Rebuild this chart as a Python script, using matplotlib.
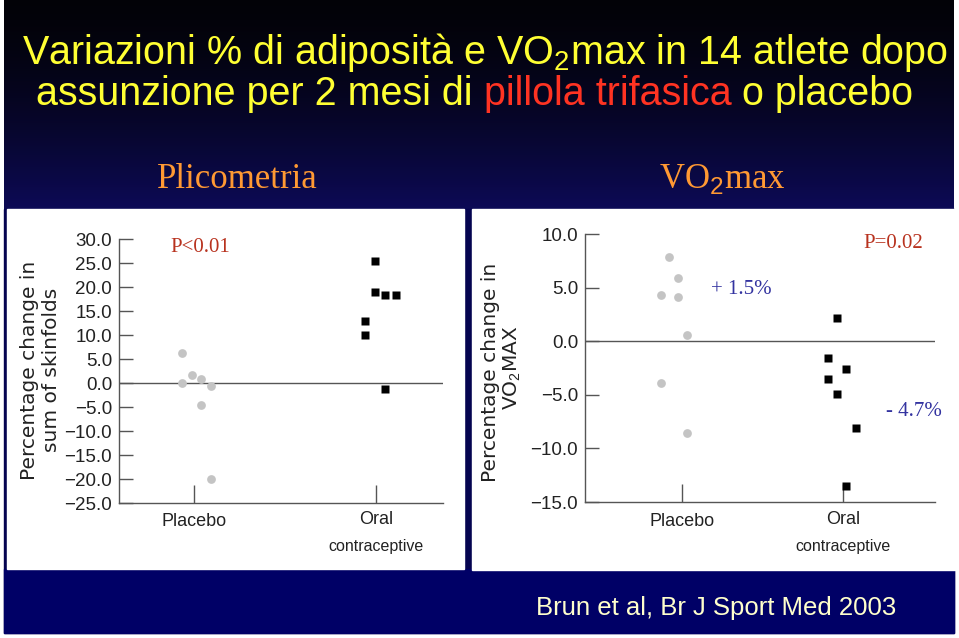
import numpy as np
import matplotlib
matplotlib.use("Agg")
import matplotlib.pyplot as plt
from matplotlib.patches import Rectangle

plt.rcParams["font.family"] = ["Liberation Sans", "DejaVu Sans"]
plt.rcParams["mathtext.fontset"] = "custom"
plt.rcParams["mathtext.rm"] = "Liberation Sans"

# ── data ──
categories = ["Placebo", "Oral\ncontraceptive"]

# skinfolds (% change)
skin_placebo_x = [0.936, 0.987, 0.936, 1.038, 1.092, 1.038, 1.092]
skin_placebo_y = [6.2, 1.6, 0.1, 0.8, -0.7, -4.5, -20.0]
skin_oc_x = [1.995, 1.995, 2.049, 2.108, 1.940, 1.940, 2.049]
skin_oc_y = [25.5, 18.9, 18.3, 18.3, 13.0, 10.1, -1.2]
skin_ticks = [30, 25, 20, 15, 10, 5, 0, -5, -10, -15, -20, -25]

# VO2max (% change)
vo2_placebo_x = [0.917, 0.973, 0.865, 0.973, 1.029, 0.865, 1.029]
vo2_placebo_y = [7.9, 5.9, 4.3, 4.1, 0.6, -3.9, -8.6]
vo2_oc_x = [1.965, 1.910, 2.021, 1.910, 1.965, 2.080, 2.021]
vo2_oc_y = [2.2, -1.6, -2.6, -3.5, -4.9, -8.1, -13.5]
vo2_ticks = [10, 5, 0, -5, -10, -15]

W, H = 959, 638
fig = plt.figure(figsize=(W / 100, H / 100), dpi=100, facecolor="white")

# background axes in pixel coords
bg = fig.add_axes([0, 0, 1, 1])
bg.set_xlim(0, W)
bg.set_ylim(H, 0)
bg.axis("off")

# header gradient black -> navy
grad = np.linspace(0, 1, 256)[:, None]
top = np.array([0.01, 0.01, 0.03])
bot = np.array([0.05, 0.04, 0.34])
img = top + (bot - top) * grad[..., None] ** 1.5
bg.imshow(img, extent=[4, 954, 210, 0], aspect="auto", zorder=0)
bg.add_patch(Rectangle((4, 209), 950, 424, color="#050450", zorder=0))
bg.add_patch(Rectangle((4, 569), 950, 64, color="#000066", zorder=1))
bg.add_patch(Rectangle((7, 209), 457, 360, color="white", zorder=1))
bg.add_patch(Rectangle((472, 209), 487, 361, color="white", zorder=1))

# title
title_fs = 28.45
yellow = "#ffff33"
bg.text(22, 64, r"Variazioni % di adiposità e VO$_2$max in 14 atlete dopo",
        fontsize=title_fs, color=yellow, va="baseline", ha="left", zorder=3)
t = bg.text(36, 105, "assunzione per 2 mesi di ", fontsize=title_fs,
            color=yellow, va="baseline", ha="left", zorder=3)
t = bg.annotate("pillola trifasica", xy=(1, 0), xycoords=t, va="bottom",
                fontsize=title_fs, color="#ff3322", zorder=3)
bg.annotate(" o placebo", xy=(1, 0), xycoords=t, va="bottom",
            fontsize=title_fs, color=yellow, zorder=3)

orange = "#ff9933"
serif = ["Liberation Serif", "DejaVu Serif"]
bg.text(237, 188, "Plicometria", fontsize=25, color=orange, ha="center",
        va="baseline", family=serif, zorder=3)
bg.text(722, 188, r"VO$_2$max", fontsize=25, color=orange, ha="center",
        va="baseline", family=serif, zorder=3)

bg.text(716, 615, "Brun et al, Br J Sport Med 2003", fontsize=18.5,
        color="#ffffcc", ha="center", va="baseline", zorder=3)

axis_col = "#555555"
txt_col = "#222222"
red_txt = "#b8321e"
blue_txt = "#3333a0"


def px_axes(x0, x1, y0, y1):
    return fig.add_axes([x0 / W, 1 - y1 / H, (x1 - x0) / W, (y1 - y0) / H])


def style(ax, ticks, xlim):
    ax.set_facecolor("none")
    ax.set_xlim(*xlim)
    ax.set_ylim(min(ticks), max(ticks))
    for s in ("top", "right"):
        ax.spines[s].set_visible(False)
    for s in ("left", "bottom"):
        ax.spines[s].set_color(axis_col)
        ax.spines[s].set_linewidth(1.0)
    ax.axhline(0, color=axis_col, lw=1.0, zorder=1)
    ax.set_yticks(ticks)
    ax.set_yticklabels([f"{v:.1f}".replace("-", "\u2212") for v in ticks],
                       fontsize=13.5, color=txt_col)
    ax.tick_params(axis="y", direction="in", length=10, width=1.0,
                   color=axis_col, pad=5)
    ax.set_xticks([1, 2])
    ax.set_xticklabels([])
    ax.tick_params(axis="x", direction="in", length=13, width=1.0,
                   color=axis_col)


# left panel: skinfolds
ax1 = px_axes(119, 443, 239, 503)
style(ax1, skin_ticks, (0.588, 2.368))
ax1.plot(skin_placebo_x, skin_placebo_y, "o", ms=6.3, color="#c4c4c4",
         mec="none", zorder=3)
ax1.plot(skin_oc_x, skin_oc_y, "s", ms=6.0, color="black", mec="none",
         zorder=3)

# right panel: VO2max
ax2 = px_axes(585, 935, 234, 502)
style(ax2, vo2_ticks, (0.393, 2.575))
ax2.plot(vo2_placebo_x, vo2_placebo_y, "o", ms=6.3, color="#c4c4c4",
         mec="none", zorder=3)
ax2.plot(vo2_oc_x, vo2_oc_y, "s", ms=6.0, color="black", mec="none",
         zorder=3)

# category labels
cat_fs = 13
l1, l2 = categories[1].split("\n")
for cx in (194, 682):
    bg.text(cx, 521, categories[0], fontsize=cat_fs, ha="center",
            va="center", color=txt_col, zorder=3)
for cx in (376, 843):
    bg.text(cx, 520, l1, fontsize=cat_fs, ha="center", va="center",
            color=txt_col, zorder=3)
    bg.text(cx, 547, l2, fontsize=11.5, ha="center", va="center",
            color=txt_col, zorder=3)

# y labels
ylab_fs = 14.5
bg.text(30, 370, "Percentage change in", rotation=90, fontsize=ylab_fs,
        family="DejaVu Sans", ha="center", va="center", color=txt_col, zorder=3)
bg.text(52, 370, "sum of skinfolds", rotation=90, fontsize=ylab_fs,
        family="DejaVu Sans", ha="center", va="center", color=txt_col, zorder=3)
bg.text(490, 372, "Percentage change in", rotation=90, fontsize=ylab_fs,
        family="DejaVu Sans", ha="center", va="center", color=txt_col, zorder=3)
bg.text(512, 368, r"VO$_2$MAX", rotation=90, fontsize=ylab_fs,
        family="DejaVu Sans", ha="center", va="center", color=txt_col, zorder=3)

# annotations
bg.text(200, 248, "P<0.01", fontsize=15, family=serif, color=red_txt,
        ha="center", va="center", zorder=3)
bg.text(893, 243, "P=0.02", fontsize=15, family=serif, color=red_txt,
        ha="center", va="center", zorder=3)
bg.text(741, 289, "+ 1.5%", fontsize=15, family=serif, color=blue_txt,
        ha="center", va="center", zorder=3)
bg.text(914, 411, "- 4.7%", fontsize=15, family=serif, color=blue_txt,
        ha="center", va="center", zorder=3)

fig.savefig("out.png", dpi=100, facecolor="white")
